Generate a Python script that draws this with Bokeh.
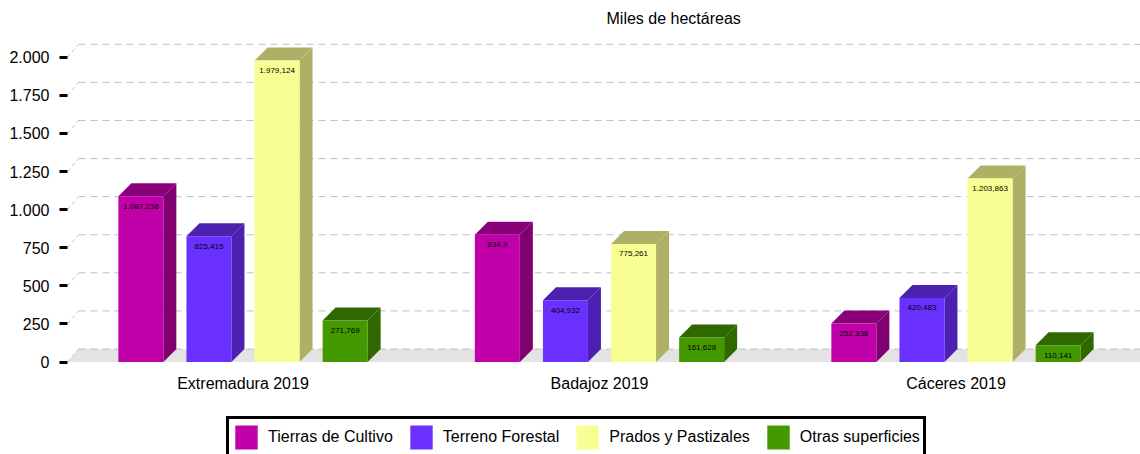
from bokeh.plotting import figure
from bokeh.models import Range1d, FixedTicker, Legend, LegendItem, Label
from bokeh.core.properties import value
from bokeh.embed import file_html
from bokeh.resources import INLINE

categories = ["Extremadura 2019", "Badajoz 2019", "Cáceres 2019"]
series = ["Tierras de Cultivo", "Terreno Forestal", "Prados y Pastizales", "Otras superficies"]
tierras = [1087.238, 834.9, 252.338]
forestal = [825.415, 404.932, 420.483]
prados = [1979.124, 775.261, 1203.863]
otras = [271.769, 161.628, 110.141]
tierras_labels = ["1.087,238", "834,9", "252,338"]
forestal_labels = ["825,415", "404,932", "420,483"]
prados_labels = ["1.979,124", "775,261", "1.203,863"]
otras_labels = ["271,769", "161,628", "110,141"]
y_ticks = [0, 250, 500, 750, 1000, 1250, 1500, 1750, 2000]
y_tick_labels = ["0", "250", "500", "750", "1.000", "1.250", "1.500", "1.750", "2.000"]
front_colors = ["#c000a8", "#6a30ff", "#f7ff94", "#449800"]
side_colors = ["#800070", "#4b20b2", "#aeb066", "#306800"]
top_colors = ["#8a007a", "#4a22ae", "#aeb066", "#306800"]

FIG_W, FIG_H = 1140, 454
FRAME_L = 67
ZERO_Y = 361.5   # figure px of value 0
PX_PER_CAT = 356.5
PX_PER_UNIT = 0.15235
CAT0_PX = 242.5 - FRAME_L
SLOT = 68.1 / PX_PER_CAT
BAR_W = 45 / PX_PER_CAT
DEPTH_X = 13 / PX_PER_CAT
DEPTH_Y = 13 / PX_PER_UNIT
WALL_X = 11 / PX_PER_CAT

frame_w = FIG_W - FRAME_L
x_start = -CAT0_PX / PX_PER_CAT
x_end = x_start + frame_w / PX_PER_CAT
y_end = ZERO_Y / PX_PER_UNIT
y_start = -(FIG_H - ZERO_Y) / PX_PER_UNIT

p = figure(width=FIG_W, height=FIG_H, output_backend="svg", toolbar_location=None,
           x_range=Range1d(x_start, x_end), y_range=Range1d(y_start, y_end),
           min_border_left=FRAME_L, min_border_right=0, min_border_top=0, min_border_bottom=0,
           outline_line_color=None, background_fill_color=None, border_fill_color="white",
           x_axis_type=None)
p.grid.visible = False

ya = p.yaxis[0]
ya.ticker = FixedTicker(ticks=y_ticks)
ya.major_label_overrides = dict(zip(y_ticks, y_tick_labels))
ya.major_label_text_font = "Liberation Sans"
ya.major_label_text_font_size = "16px"
ya.major_label_text_color = "#000000"
ya.major_label_standoff = 10
ya.axis_line_color = None
ya.minor_tick_line_color = None
ya.major_tick_out = 8
ya.major_tick_in = 0
ya.major_tick_line_width = 3
ya.major_tick_line_color = "#000000"

# back wall and floor
p.patch([x_start, x_start + WALL_X, x_end + DEPTH_X, x_end],
        [0, DEPTH_Y, DEPTH_Y, 0], fill_color="#e3e3e3", line_color=None)
for t in y_ticks:
    p.line([x_start, x_start + WALL_X], [t, t + DEPTH_Y], line_color="#c4c4c4",
           line_width=1, line_dash="4 3")
    p.line([x_start + WALL_X, x_end], [t + DEPTH_Y] * 2, line_color="#c0c0c0",
           line_width=1, line_dash="7 5")

data = [tierras, forestal, prados, otras]
labels = [tierras_labels, forestal_labels, prados_labels, otras_labels]
items = []
for s, name in enumerate(series):
    rs = []
    for c in range(len(categories)):
        v = data[s][c]
        left = c + (s - 1.5) * SLOT - BAR_W / 2
        right = left + BAR_W
        p.patch([right, right + DEPTH_X, right + DEPTH_X, right],
                [0, DEPTH_Y, v + DEPTH_Y, v], fill_color=side_colors[s], line_color=None)
        p.patch([left, left + DEPTH_X, right + DEPTH_X, right],
                [v, v + DEPTH_Y, v + DEPTH_Y, v], fill_color=top_colors[s], line_color=None)
        r = p.quad(left=[left], right=[right], bottom=[0], top=[v],
                   fill_color=front_colors[s], line_color=None)
        rs.append(r)
        p.text(x=[(left + right) / 2], y=[v], text=[labels[s][c]], y_offset=10,
               text_font=value("Liberation Sans"), text_font_size="8px", text_color="#000000",
               text_align="center", text_baseline="middle")
    items.append(LegendItem(label=name, renderers=[rs[0]]))

# category labels
p.text(x=[0, 1, 2], y=[0, 0, 0], text=categories, y_offset=21,
       text_font=value("Liberation Sans"), text_font_size="16px", text_color="#000000",
       text_align="center", text_baseline="middle")

p.add_layout(Label(x=606 - FRAME_L, y=FIG_H - 18, x_units="screen", y_units="screen",
                   text="Miles de hectáreas", text_font="Liberation Sans", text_font_size="16px",
                   text_color="#000000", text_baseline="middle"))

legend = Legend(items=items, orientation="horizontal", location=(226 - FRAME_L, -4),
                border_line_color="#000000", border_line_alpha=1.0, border_line_width=3,
                glyph_width=28, glyph_height=30, label_standoff=8, spacing=14,
                padding=3, margin=0, background_fill_color="white", background_fill_alpha=1.0,
                label_text_font="Liberation Sans", label_text_font_size="16px",
                label_text_color="#000000")
p.add_layout(legend, "center")

open("out.html", "w").write(file_html(p, INLINE))
